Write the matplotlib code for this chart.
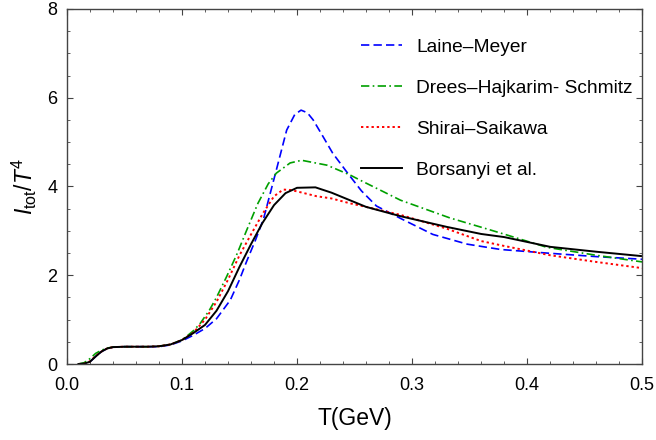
import matplotlib
matplotlib.use("Agg")
import matplotlib.pyplot as plt
from matplotlib.ticker import MultipleLocator, FormatStrFormatter

plt.rcParams['font.family'] = ['Liberation Sans', 'DejaVu Sans']
plt.rcParams['mathtext.fontset'] = 'custom'
plt.rcParams['mathtext.rm'] = 'Liberation Sans'
plt.rcParams['mathtext.it'] = 'Liberation Sans:italic'

# Laine-Meyer
t_lm = [0.010, 0.015, 0.020, 0.025, 0.030, 0.035, 0.040, 0.050, 0.060, 0.070, 0.080, 0.090,
        0.100, 0.110, 0.120, 0.130, 0.142, 0.150, 0.156, 0.164, 0.171, 0.182, 0.191, 0.198,
        0.2035, 0.209, 0.214, 0.222, 0.231, 0.244, 0.256, 0.269, 0.290, 0.318, 0.348, 0.377,
        0.417, 0.460, 0.500]
v_lm = [0.0, 0.01, 0.05, 0.17, 0.28, 0.35, 0.38, 0.39, 0.39, 0.39, 0.39, 0.43,
        0.52, 0.65, 0.80, 1.02, 1.44, 1.90, 2.30, 2.80, 3.28, 4.37, 5.27, 5.62,
        5.72, 5.66, 5.50, 5.15, 4.75, 4.30, 3.90, 3.56, 3.28, 2.92, 2.70, 2.58,
        2.50, 2.42, 2.36]

# Drees-Hajkarim-Schmitz
t_dhs = [0.010, 0.015, 0.020, 0.025, 0.030, 0.035, 0.040, 0.050, 0.060, 0.070, 0.080, 0.090,
         0.100, 0.110, 0.116, 0.124, 0.130, 0.139, 0.148, 0.156, 0.166, 0.175, 0.182, 0.194,
         0.204, 0.226, 0.246, 0.255, 0.290, 0.333, 0.359, 0.377, 0.417, 0.460, 0.500]
v_dhs = [0.0, 0.03, 0.12, 0.24, 0.31, 0.36, 0.38, 0.39, 0.39, 0.39, 0.40, 0.44,
         0.54, 0.75, 0.92, 1.22, 1.50, 1.98, 2.49, 3.00, 3.62, 4.06, 4.30, 4.53,
         4.59, 4.48, 4.26, 4.14, 3.69, 3.29, 3.09, 2.95, 2.63, 2.45, 2.30]

# Shirai-Saikawa
t_ss = [0.010, 0.015, 0.020, 0.025, 0.030, 0.035, 0.040, 0.050, 0.060, 0.070, 0.080, 0.090,
        0.100, 0.110, 0.120, 0.130, 0.140, 0.150, 0.160, 0.170, 0.180, 0.188, 0.195, 0.203,
        0.217, 0.230, 0.246, 0.260, 0.290, 0.330, 0.360, 0.380, 0.420, 0.460, 0.500]
v_ss = [0.0, 0.01, 0.06, 0.18, 0.28, 0.35, 0.38, 0.39, 0.39, 0.39, 0.40, 0.44,
        0.54, 0.71, 1.00, 1.40, 1.90, 2.45, 2.92, 3.38, 3.78, 3.93, 3.92, 3.87,
        3.78, 3.73, 3.62, 3.54, 3.36, 3.05, 2.77, 2.66, 2.45, 2.30, 2.16]

# Borsanyi et al.
t_b = [0.010, 0.015, 0.020, 0.025, 0.030, 0.035, 0.040, 0.050, 0.060, 0.070, 0.080, 0.090,
       0.100, 0.110, 0.120, 0.130, 0.140, 0.150, 0.160, 0.170, 0.180, 0.190, 0.200, 0.216,
       0.230, 0.260, 0.290, 0.330, 0.360, 0.380, 0.420, 0.460, 0.500]
v_b = [0.0, 0.01, 0.05, 0.17, 0.28, 0.35, 0.38, 0.39, 0.39, 0.39, 0.40, 0.44,
       0.54, 0.70, 0.88, 1.20, 1.64, 2.19, 2.70, 3.18, 3.58, 3.85, 3.97, 3.98,
       3.86, 3.54, 3.33, 3.09, 2.93, 2.86, 2.64, 2.53, 2.43]

fig = plt.figure(figsize=(6.56, 4.4), dpi=100)
ax = fig.add_axes([0.102, 0.1727, 0.877, 0.807])

ax.plot(t_lm, v_lm, color='#0000ff', lw=1.2, ls=(0, (5, 2.5)), label='Laine\u2013Meyer')
ax.plot(t_dhs, v_dhs, color='#00a000', lw=1.2, ls=(0, (5, 2, 1, 2)), label='Drees\u2013Hajkarim- Schmitz')
ax.plot(t_ss, v_ss, color='#ff0000', lw=1.4, ls=(0, (1.2, 1.5)), label='Shirai\u2013Saikawa')
ax.plot(t_b, v_b, color='black', lw=1.4, label='Borsanyi et al.')

ax.set_xlim(0, 0.5)
ax.set_ylim(0, 8)
ax.xaxis.set_major_locator(MultipleLocator(0.1))
ax.xaxis.set_minor_locator(MultipleLocator(0.02))
ax.yaxis.set_major_locator(MultipleLocator(2))
ax.yaxis.set_minor_locator(MultipleLocator(0.5))
ax.xaxis.set_major_formatter(FormatStrFormatter('%.1f'))
ax.tick_params(which='both', direction='in', top=True, right=True, labelsize=13,
               color='#444444')
ax.tick_params(which='major', length=4, width=0.8)
ax.tick_params(which='minor', length=2.5, width=0.6)
ax.tick_params(axis='x', which='major', pad=9.5)
ax.tick_params(axis='y', which='major', pad=7)
for s in ax.spines.values():
    s.set_color('#444444')
    s.set_linewidth(1.0)

ax.set_xlabel('T(GeV)', fontsize=16.5, labelpad=9)
ax.set_ylabel(r'$I_{\rm tot}/T^4$', fontsize=16.5, labelpad=6)

ax.legend(loc='upper left', bbox_to_anchor=(0.551, 0.912), bbox_transform=fig.transFigure,
          frameon=False, fontsize=13.8, handlelength=2.1, handletextpad=0.75,
          labelspacing=1.22, borderpad=0, borderaxespad=0)

fig.savefig('out.png', dpi=100)
